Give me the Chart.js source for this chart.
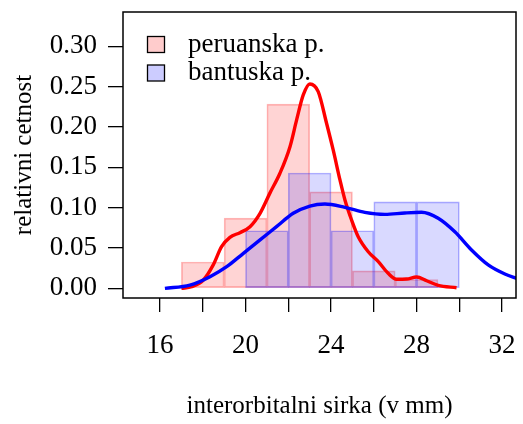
<!DOCTYPE html>
<html>
<head>
<meta charset="utf-8">
<script src="https://cdn.jsdelivr.net/npm/chart.js@4/dist/chart.umd.min.js"></script>
<style>
  html, body { margin: 0; padding: 0; background: #ffffff; }
  #wrap { width: 523px; height: 424px; }
</style>
</head>
<body>
<div id="wrap"><canvas id="c" width="523" height="424"></canvas></div>
<script>
// ---- data ----
const binWidth = 2;
const redBinStarts = [17, 19, 21, 23, 25, 27];
const redDensity = [0.0326, 0.0870, 0.2283, 0.1196, 0.0217, 0.0109];
const blueBinStarts = [20, 22, 24, 26, 28];
const blueDensity = [0.0714, 0.1429, 0.0714, 0.1071, 0.1071];

const redCurveX = [17.0, 17.48, 18.03, 18.49, 18.88, 19.27, 19.74, 20.21, 20.68, 21.14, 21.61, 22.08, 22.39, 22.7, 23.01, 23.4, 23.79, 24.1, 24.42, 24.65, 24.96, 25.27, 25.74, 26.21, 26.67, 27.06, 27.53, 28.0, 28.47, 29.01, 29.87];
const redCurveY = [0.0, 0.002, 0.0103, 0.029, 0.0516, 0.0632, 0.069, 0.0764, 0.093, 0.118, 0.1426, 0.1756, 0.2087, 0.2397, 0.2533, 0.2438, 0.2046, 0.1715, 0.134, 0.1095, 0.0847, 0.064, 0.0454, 0.033, 0.0186, 0.0112, 0.0115, 0.014, 0.0094, 0.0037, 0.0007];
const blueCurveX = [16.23, 17.4, 18.34, 19.12, 19.9, 20.68, 21.45, 22.23, 23.01, 23.71, 24.65, 25.58, 26.52, 27.45, 28.23, 29.01, 29.79, 30.57, 31.35, 32.13, 32.67, 33.0];
const blueCurveY = [0.0, 0.004, 0.0144, 0.0268, 0.0434, 0.06, 0.0764, 0.093, 0.102, 0.1045, 0.1004, 0.0942, 0.0917, 0.0934, 0.0942, 0.0868, 0.070, 0.0475, 0.029, 0.0177, 0.0124, 0.0095];

const xTicks = [16, 18, 20, 22, 24, 26, 28, 30, 32];
const xTickLabels = [16, 20, 24, 28, 32];
const yTicks = [0, 0.05, 0.10, 0.15, 0.20, 0.25, 0.30];
const legendLabels = ['peruanska p.', 'bantuska p.'];
const xTitle = 'interorbitalni sirka (v mm)';
const yTitle = 'relativni cetnost';

// ---- build chart ----
const FONT = "'Liberation Serif', 'Times New Roman', serif";
const FS = 27;
const toPts = (xs, ys) => xs.map((x, i) => ({ x: x, y: ys[i] }));
const centers = (starts) => starts.map(s => s + binWidth / 2);
const noPad = (s) => { s.paddingLeft = 0; s.paddingRight = 0; s.paddingTop = 0; s.paddingBottom = 0; };

const boxPlugin = {
  id: 'box',
  afterDraw(chart) {
    const { ctx, chartArea: a } = chart;
    ctx.save();
    ctx.strokeStyle = '#000';
    ctx.lineWidth = 1.5;
    ctx.strokeRect(a.left, a.top, a.right - a.left, a.bottom - a.top);
    // legend
    const colors = ['rgba(255,0,0,0.2)', 'rgba(0,0,255,0.2)'];
    ctx.font = FS + 'px ' + FONT;
    ctx.textBaseline = 'alphabetic';
    ctx.textAlign = 'left';
    legendLabels.forEach((lab, i) => {
      const y0 = 36.5 + i * 28.5;
      ctx.fillStyle = '#fff';
      ctx.fillRect(147.5, y0, 17, 16);
      ctx.fillStyle = colors[i];
      ctx.fillRect(147.5, y0, 17, 16);
      ctx.lineWidth = 1.3;
      ctx.strokeStyle = '#000';
      ctx.strokeRect(147.5, y0, 17, 16);
      ctx.fillStyle = '#000';
      ctx.fillText(lab, 188, y0 + 15);
    });
    ctx.restore();
  }
};

new Chart(document.getElementById('c'), {
  data: {
    datasets: [
      {
        type: 'line', label: 'blue density', data: toPts(blueCurveX, blueCurveY),
        borderColor: '#0000ff', borderWidth: 3.4, pointRadius: 0, fill: false,
        cubicInterpolationMode: 'monotone', order: 1, xAxisID: 'x', yAxisID: 'y'
      },
      {
        type: 'line', label: 'red density', data: toPts(redCurveX, redCurveY),
        borderColor: '#ff0000', borderWidth: 3.4, pointRadius: 0, fill: false,
        cubicInterpolationMode: 'monotone', order: 2, xAxisID: 'x', yAxisID: 'y'
      },
      {
        type: 'bar', label: legendLabels[1],
        data: centers(blueBinStarts).map((c, i) => ({ x: c, y: blueDensity[i] })),
        backgroundColor: 'rgba(0,0,255,0.15)', borderColor: 'rgba(0,0,255,0.3)',
        borderWidth: 1, borderSkipped: false, barPercentage: 1, categoryPercentage: 1,
        grouped: false, order: 3, xAxisID: 'x2', yAxisID: 'y'
      },
      {
        type: 'bar', label: legendLabels[0],
        data: centers(redBinStarts).map((c, i) => ({ x: c, y: redDensity[i] })),
        backgroundColor: 'rgba(255,0,0,0.17)', borderColor: 'rgba(255,0,0,0.28)',
        borderWidth: 1, borderSkipped: false, barPercentage: 1, categoryPercentage: 1,
        grouped: false, order: 4, xAxisID: 'x', yAxisID: 'y'
      }
    ]
  },
  options: {
    responsive: false,
    animation: false,
    devicePixelRatio: 1,
    layout: { padding: { left: 0, top: 12, right: 7, bottom: 0 } },
    plugins: { legend: { display: false }, tooltip: { enabled: false } },
    scales: {
      x: {
        type: 'linear', position: 'bottom', min: 14.27, max: 32.65, offset: false,
        afterBuildTicks: (s) => { s.ticks = xTicks.map(v => ({ value: v })); },
        afterFit: (s) => { s.height = 126; noPad(s); },
        grid: { offset: false, drawOnChartArea: false, drawTicks: true, tickLength: 14, color: '#000', lineWidth: 1.3 },
        border: { display: false },
        ticks: {
          autoSkip: false, maxRotation: 0, padding: 18, color: '#000',
          font: { family: FONT, size: FS },
          callback: (v) => xTickLabels.includes(v) ? String(v) : ''
        },
        title: { display: true, text: xTitle, color: '#000', font: { family: FONT, size: 25 }, padding: { top: 0, bottom: 3 } }
      },
      x2: {
        type: 'linear', display: false, min: 14.27, max: 32.65, offset: false,
        grid: { display: false }
      },
      y: {
        type: 'linear', position: 'left', min: -0.012, max: 0.3425,
        afterBuildTicks: (s) => { s.ticks = yTicks.map(v => ({ value: v })); },
        afterFit: (s) => { s.width = 123; noPad(s); },
        grid: { offset: false, drawOnChartArea: false, drawTicks: true, tickLength: 15, color: '#000', lineWidth: 1.3 },
        border: { display: false },
        ticks: {
          padding: 11, color: '#000', font: { family: FONT, size: FS },
          callback: (v) => Number(v).toFixed(2)
        },
        title: { display: true, text: yTitle, color: '#000', font: { family: FONT, size: 25 }, padding: { top: 9, bottom: 0 } }
      }
    }
  },
  plugins: [boxPlugin]
});
</script>
</body>
</html>
